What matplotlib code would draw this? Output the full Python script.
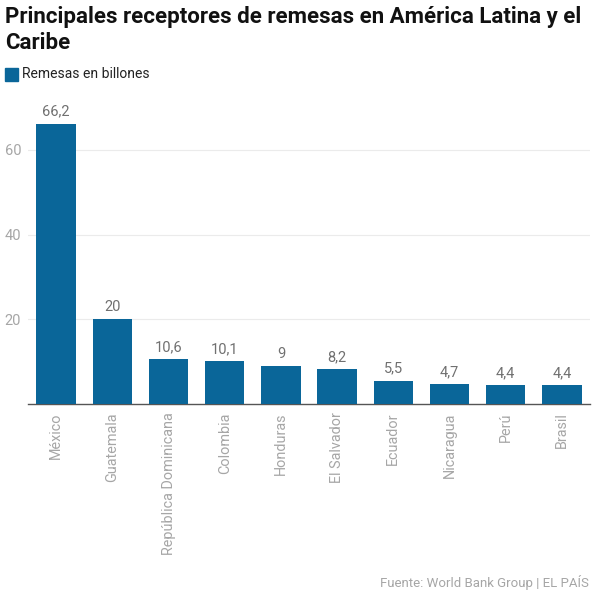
import matplotlib
matplotlib.use("Agg")
import matplotlib.pyplot as plt
from matplotlib.patches import Rectangle

paises = ["México", "Guatemala", "República Dominicana", "Colombia", "Honduras",
          "El Salvador", "Ecuador", "Nicaragua", "Perú", "Brasil"]
remesas = [66.2, 20, 10.6, 10.1, 9, 8.2, 5.5, 4.7, 4.4, 4.4]
y_ticks = [20, 40, 60]

color_barra = "#0a6699"
gris = "#a6a6a6"

plt.rcParams["font.family"] = ["Roboto", "DejaVu Sans"]

fig = plt.figure(figsize=(5.94, 6.0), dpi=100)
ax = fig.add_axes([28 / 594, 1 - 404 / 600, 562 / 594, (404 - 107.5) / 600])

x = range(len(paises))
ax.bar(x, remesas, width=0.7, color=color_barra, zorder=3)

for xi, v in zip(x, remesas):
    txt = f"{v:g}".replace(".", ",")
    ax.text(xi, v + 1.2, txt, ha="center", va="bottom", fontsize=10.5, color="#707070")

ax.set_xlim(-0.5, len(paises) - 0.5)
ax.set_ylim(0, 70)
ax.set_yticks(y_ticks)
ax.set_yticklabels([str(t) for t in y_ticks], fontsize=10.5, color=gris)
ax.set_xticks(list(x))
ax.set_xticklabels(paises, rotation=90, fontsize=10.4, color=gris, va="top")
ax.tick_params(axis="both", length=0)
ax.tick_params(axis="y", pad=5)
ax.tick_params(axis="x", pad=6)
ax.yaxis.grid(True, color="#ebebeb", linewidth=0.8, zorder=0)
ax.set_axisbelow(True)
for s in ["top", "right", "left"]:
    ax.spines[s].set_visible(False)
ax.spines["bottom"].set_color("#555555")
ax.spines["bottom"].set_linewidth(1.0)

fig.text(5 / 594, 1 - 6 / 600,
         "Principales receptores de remesas en América Latina y el\nCaribe",
         ha="left", va="top", fontsize=16, fontweight="bold", color="#111111",
         linespacing=1.25)

fig.patches.append(Rectangle((5 / 594, 1 - 81 / 600), 13 / 594, 13 / 600,
                             transform=fig.transFigure, color=color_barra))
fig.text(22 / 594, 1 - 74.5 / 600, "Remesas en billones", ha="left", va="center",
         fontsize=10, color="#222222")

fig.text(589 / 594, 1 - 583 / 600, "Fuente: World Bank Group | EL PAÍS",
         ha="right", va="center", fontsize=9.5, color=gris)

fig.savefig("out.png", dpi=100)
